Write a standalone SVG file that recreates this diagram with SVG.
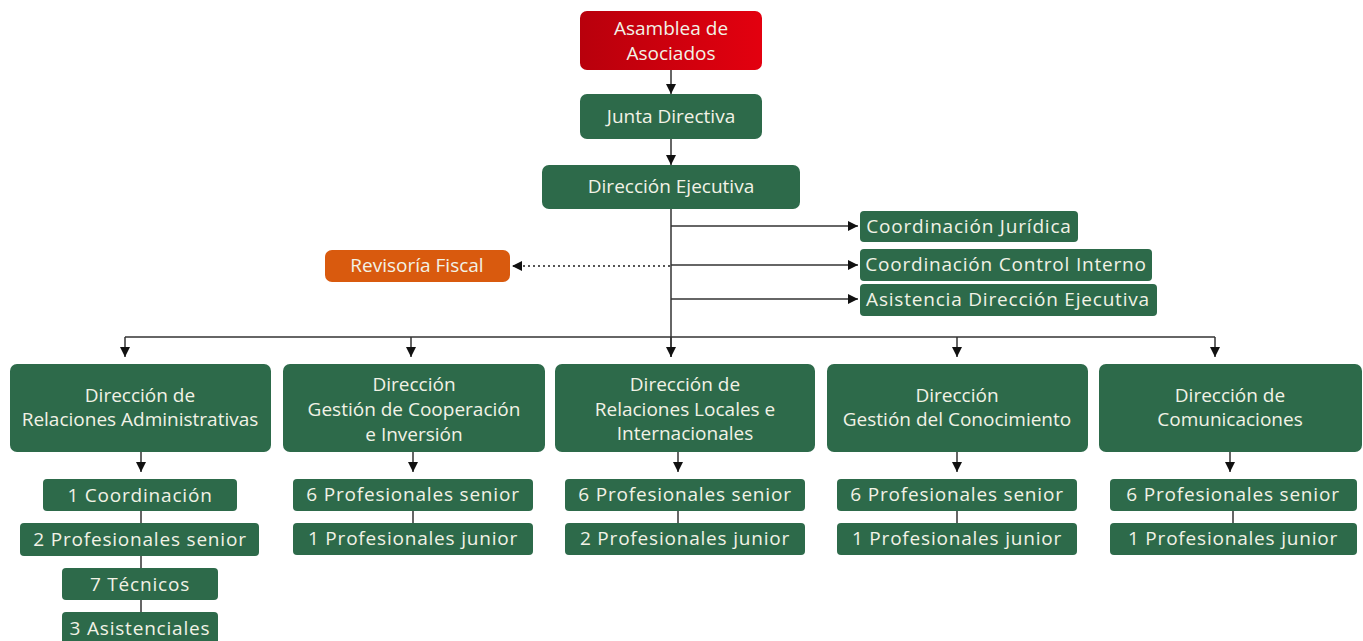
<svg xmlns="http://www.w3.org/2000/svg" width="1363" height="641" viewBox="0 0 1363 641">
<defs>
<linearGradient id="red" x1="0" y1="0" x2="1" y2="0">
<stop offset="0" stop-color="#b8000c"/><stop offset="1" stop-color="#e3000f"/>
</linearGradient>
<marker id="ah" viewBox="0 0 10 10" refX="10" refY="5" markerWidth="10" markerHeight="10" markerUnits="userSpaceOnUse" orient="auto">
<path d="M0,0 L10,5 L0,10 z" fill="#111"/>
</marker>
<style>
.g{fill:#2d6a4a}
.t{fill:#f2f2e6;font-family:"Open Sans",Lato,sans-serif;font-size:19px;text-anchor:middle;dominant-baseline:central}
.s{letter-spacing:0.8px}
.c{stroke:#333;stroke-width:1.5;fill:none}
.d{stroke:#555;stroke-width:2;fill:none;stroke-dasharray:2 3}
</style>
</defs>
<rect width="1363" height="641" fill="#fff"/>
<g id="connectors">
<path class="c" d="M671,70 V94" marker-end="url(#ah)"/>
<path class="c" d="M671,139 V165" marker-end="url(#ah)"/>
<path class="c" d="M671,209 V357"/>
<path class="c" d="M671,226 H858" marker-end="url(#ah)"/>
<path class="c" d="M671,265 H858" marker-end="url(#ah)"/>
<path class="c" d="M671,299 H858" marker-end="url(#ah)"/>
<path class="d" d="M670,266 H512" marker-end="url(#ah)"/>
<path class="c" d="M125,337 H1215"/>
<path class="c" d="M125,337 V357" marker-end="url(#ah)"/>
<path class="c" d="M411,337 V357" marker-end="url(#ah)"/>
<path class="c" d="M671,337 V357" marker-end="url(#ah)"/>
<path class="c" d="M957,337 V357" marker-end="url(#ah)"/>
<path class="c" d="M1215,337 V357" marker-end="url(#ah)"/>
<path class="c" d="M141,452 V472" marker-end="url(#ah)"/>
<path class="c" d="M413,452 V472" marker-end="url(#ah)"/>
<path class="c" d="M678,452 V472" marker-end="url(#ah)"/>
<path class="c" d="M957,452 V472" marker-end="url(#ah)"/>
<path class="c" d="M1230,452 V472" marker-end="url(#ah)"/>
<path class="c" d="M141,511 V523 M141,556 V568 M141,600 V612"/>
<path class="c" d="M413,511 V523 M678,511 V523 M957,511 V523 M1233,511 V523"/>
</g>
<g id="asamblea"><rect x="580" y="11" width="182" height="59" rx="7" fill="url(#red)"/><text class="t" x="671" y="28">Asamblea de</text><text class="t" x="671" y="53">Asociados</text></g>
<g id="junta"><rect class="g" x="580" y="94" width="182" height="45" rx="7"/><text class="t" x="671" y="116">Junta Directiva</text></g>
<g id="ejecutiva"><rect class="g" x="542" y="165" width="258" height="44" rx="7"/><text class="t" x="671" y="186">Dirección Ejecutiva</text></g>
<g id="juridica"><rect class="g" x="860" y="211" width="218" height="31" rx="4"/><text class="t s" x="969" y="226">Coordinación Jurídica</text></g>
<g id="control"><rect class="g" x="860" y="249" width="292" height="32" rx="4"/><text class="t s" x="1006" y="264">Coordinación Control Interno</text></g>
<g id="asistencia"><rect class="g" x="860" y="284" width="297" height="32" rx="4"/><text class="t s" x="1008" y="299">Asistencia Dirección Ejecutiva</text></g>
<g id="revisoria"><rect x="325" y="250" width="185" height="32" rx="7" fill="#d95a0e"/><text class="t" x="417" y="265">Revisoría Fiscal</text></g>
<g id="d1"><rect class="g" x="10" y="364" width="261" height="88" rx="7"/><text class="t" x="140" y="395">Dirección de</text><text class="t" x="140" y="419">Relaciones Administrativas</text></g>
<g id="d2"><rect class="g" x="283" y="364" width="262" height="88" rx="7"/><text class="t" x="414" y="384">Dirección</text><text class="t" x="414" y="409">Gestión de Cooperación</text><text class="t" x="414" y="434">e Inversión</text></g>
<g id="d3"><rect class="g" x="555" y="364" width="260" height="88" rx="7"/><text class="t" x="685" y="384">Dirección de</text><text class="t" x="685" y="409">Relaciones Locales e</text><text class="t" x="685" y="433">Internacionales</text></g>
<g id="d4"><rect class="g" x="827" y="364" width="261" height="88" rx="7"/><text class="t" x="957" y="395">Dirección</text><text class="t" x="957" y="419">Gestión del Conocimiento</text></g>
<g id="d5"><rect class="g" x="1099" y="364" width="263" height="88" rx="7"/><text class="t" x="1230" y="395">Dirección de</text><text class="t" x="1230" y="419">Comunicaciones</text></g>
<g id="s1a"><rect class="g" x="43" y="479" width="194" height="32" rx="4"/><text class="t s" x="140" y="495">1 Coordinación</text></g>
<g id="s1b"><rect class="g" x="20" y="523" width="239" height="33" rx="4"/><text class="t s" x="140" y="539">2 Profesionales senior</text></g>
<g id="s1c"><rect class="g" x="62" y="568" width="156" height="32" rx="4"/><text class="t s" x="140" y="584">7 Técnicos</text></g>
<g id="s1d"><rect class="g" x="62" y="612" width="156" height="34" rx="4"/><text class="t s" x="140" y="628">3 Asistenciales</text></g>
<g id="s2a"><rect class="g" x="293" y="479" width="240" height="32" rx="4"/><text class="t s" x="413" y="494">6 Profesionales senior</text></g>
<g id="s2b"><rect class="g" x="293" y="523" width="240" height="32" rx="4"/><text class="t s" x="413" y="538">1 Profesionales junior</text></g>
<g id="s3a"><rect class="g" x="565" y="479" width="240" height="32" rx="4"/><text class="t s" x="685" y="494">6 Profesionales senior</text></g>
<g id="s3b"><rect class="g" x="565" y="523" width="240" height="32" rx="4"/><text class="t s" x="685" y="538">2 Profesionales junior</text></g>
<g id="s4a"><rect class="g" x="837" y="479" width="240" height="32" rx="4"/><text class="t s" x="957" y="494">6 Profesionales senior</text></g>
<g id="s4b"><rect class="g" x="837" y="523" width="240" height="32" rx="4"/><text class="t s" x="957" y="538">1 Profesionales junior</text></g>
<g id="s5a"><rect class="g" x="1110" y="479" width="247" height="32" rx="4"/><text class="t s" x="1233" y="494">6 Profesionales senior</text></g>
<g id="s5b"><rect class="g" x="1110" y="523" width="247" height="32" rx="4"/><text class="t s" x="1233" y="538">1 Profesionales junior</text></g>
</svg>
